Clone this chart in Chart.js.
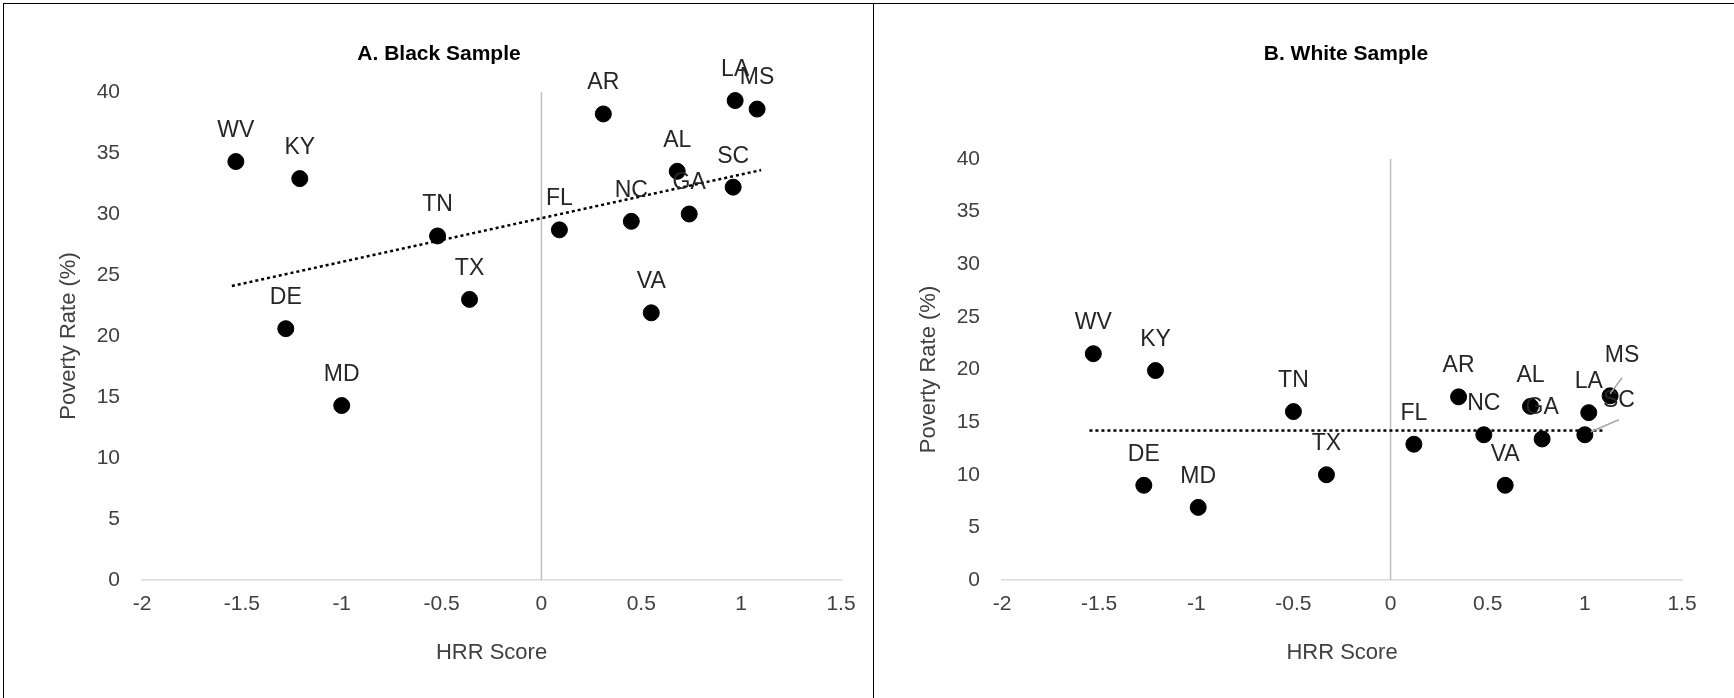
<!DOCTYPE html>
<html><head><meta charset="utf-8">
<script src="https://cdn.jsdelivr.net/npm/chart.js@4/dist/chart.umd.min.js"></script>
<style>
body{margin:0;background:#fff;font-family:"Liberation Sans",Arial,sans-serif;overflow:hidden}
#wrap{position:relative;width:1734px;height:698px}
.panel{position:absolute;top:3px;height:720px;border:1px solid #000;box-sizing:border-box}
#pA{left:3px;width:871px}
#pB{left:873px;width:900px}
canvas{display:block}
</style></head><body>
<div id="wrap">
<div class="panel" id="pA"><canvas id="cA"></canvas></div>
<div class="panel" id="pB"><canvas id="cB"></canvas></div>
</div>
<script>
// state labels and HRR scores
const states = ['WV','KY','DE','MD','TN','TX','FL','AR','NC','VA','AL','GA','SC','LA','MS'];
const hrrBlack = [-1.53,-1.21,-1.28,-1.0,-0.52,-0.36,0.09,0.31,0.45,0.55,0.68,0.74,0.96,0.97,1.08];
const povBlack = [34.3,32.9,20.6,14.3,28.2,23.0,28.7,38.2,29.4,21.9,33.5,30.0,32.2,39.3,38.6];
const hrrWhite = [-1.53,-1.21,-1.27,-0.99,-0.5,-0.33,0.12,0.35,0.48,0.59,0.72,0.78,1.0,1.02,1.13];
const povWhite = [21.5,19.9,9.0,6.9,16.0,10.0,12.9,17.4,13.8,9.0,16.5,13.4,13.8,15.9,17.5];
const trendBlack = [[-1.55,24.1],[1.1,33.6]];
const trendWhite = [[-1.55,14.2],[1.1,14.2]];
const xTicks = [-2,-1.5,-1,-0.5,0,0.5,1,1.5];

// label centre offsets [dx,dy] relative to the point, pixels
const offA = {};
const offB = {MS:[12,-40], SC:[34,-34]};
const leaderB = {MS:[[0,-2],[12,-18]], SC:[[6,-3],[34,-15]]};

const FONT = '"Liberation Sans", Arial, sans-serif';

const labelPlugin = {
  id:'ptLabels',
  afterDatasetsDraw(chart, args, opts){
    const ctx = chart.ctx, meta = chart.getDatasetMeta(0);
    ctx.save();
    // title
    ctx.font = 'bold 21px ' + FONT; ctx.fillStyle = '#000';
    ctx.textAlign = 'center'; ctx.textBaseline = 'middle';
    ctx.fillText(opts.title, opts.titleX, 50);
    ctx.font = '23px ' + FONT; ctx.fillStyle = '#262626';
    meta.data.forEach((p, i) => {
      const s = states[i];
      const o = opts.off[s] || [0,-31];
      if (opts.leader && opts.leader[s]) {
        const l = opts.leader[s];
        ctx.strokeStyle = '#a6a6a6'; ctx.lineWidth = 1.5;
        ctx.beginPath(); ctx.moveTo(p.x + l[0][0], p.y + l[0][1]); ctx.lineTo(p.x + l[1][0], p.y + l[1][1]); ctx.stroke();
      }
      ctx.fillText(s, p.x + o[0], p.y + o[1]);
    });
    ctx.restore();
  }
};

function makeChart(id, w, title, titleX, xs, ys, trend, pad, off, leader){
  const c = document.getElementById(id);
  c.width = w; c.height = 710;
  return new Chart(c, {
    type:'scatter',
    data:{datasets:[
      {data: xs.map((x,i)=>({x, y: ys[i]})), backgroundColor:'#000', borderColor:'#000', pointRadius:8, order:0},
      {type:'line', data: trend.map(p=>({x:p[0], y:p[1]})), borderColor:'#000', borderWidth:2.5, borderDash:[3,3], pointRadius:0, order:1},
      {type:'line', data:[{x:0,y:0},{x:0,y:40}], borderColor:'#bfbfbf', borderWidth:1.5, pointRadius:0, order:2}
    ]},
    options:{
      responsive:false, animation:false,
      layout:{padding:pad},
      plugins:{
        legend:{display:false}, tooltip:{enabled:false},
        ptLabels:{off, leader, title, titleX}
      },
      scales:{
        x:{type:'linear', min:-2, max:1.5, afterBuildTicks: a => { a.ticks = xTicks.map(v=>({value:v})); },
           afterFit: s => { s.height = 90; },
           grid:{display:false, drawTicks:false}, border:{color:'#d9d9d9', width:1.5},
           ticks:{color:'#404040', font:{family:FONT, size:21}, padding:12, callback: v => String(v)},
           title:{display:true, text:'HRR Score', color:'#404040', font:{family:FONT, size:22}, padding:{top:10}}},
        y:{min:0, max:40, afterFit: s => { s.width = 90; },
           ticks:{stepSize:5, color:'#404040', font:{family:FONT, size:21}, padding:14},
           grid:{display:false}, border:{display:false},
           title:{display:true, text:'Poverty Rate (%)', color:'#404040', font:{family:FONT, size:22}, padding:{bottom:14}}}
      }
    },
    plugins:[labelPlugin]
  });
}

// chart area A: x 142..833, y 92..575 ; B (relative to its canvas at 873): x 129..808, y 159..575
makeChart('cA', 869, 'A. Black Sample', 435, hrrBlack, povBlack, trendBlack, {left:48, right:32, top:88, bottom:44}, offA, null);
makeChart('cB', 860, 'B. White Sample', 472, hrrWhite, povWhite, trendWhite, {left:38, right:52, top:155, bottom:44}, offB, leaderB);
</script>
</body></html>
